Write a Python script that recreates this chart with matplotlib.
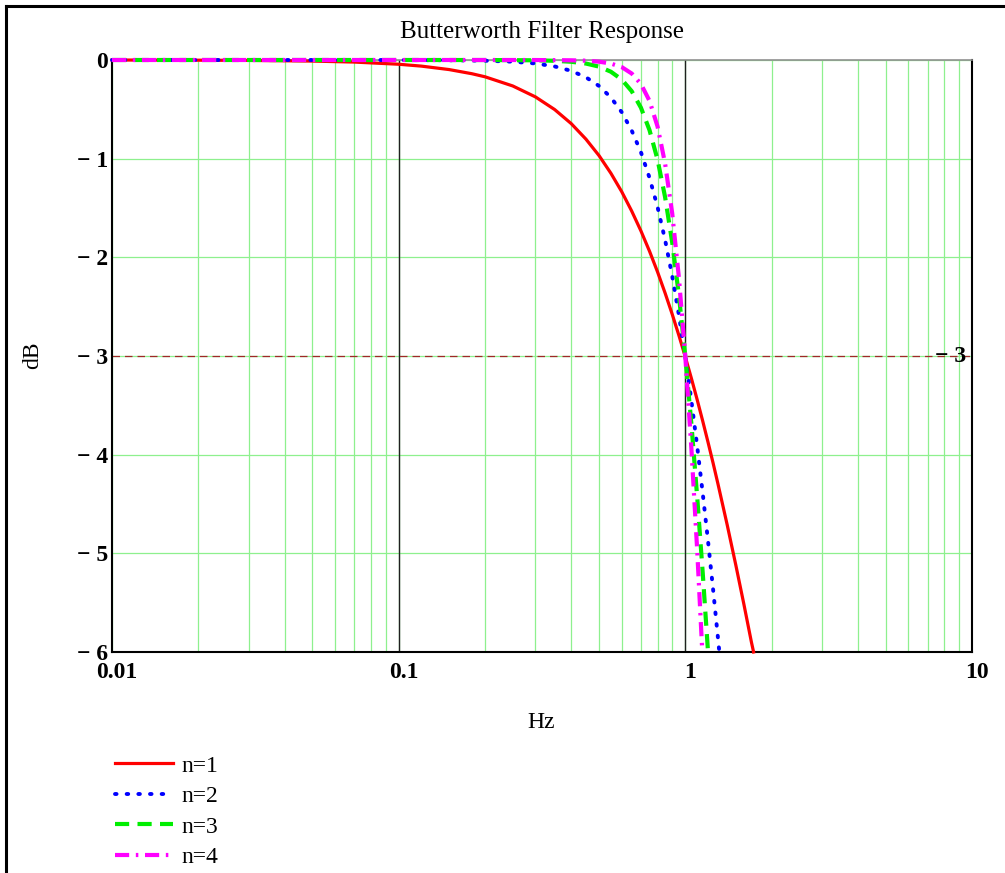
import matplotlib
matplotlib.use("Agg")
import matplotlib.pyplot as plt
import matplotlib.transforms as mtransforms
from matplotlib.lines import Line2D
from matplotlib.ticker import FixedLocator, FixedFormatter, NullFormatter

# Valeurs (Hz, dB)
freq_n1 = [0.01, 0.02, 0.03, 0.05, 0.07, 0.1, 0.12, 0.15, 0.18, 0.2, 0.25, 0.3, 0.35, 0.4,
           0.45, 0.5, 0.55, 0.6, 0.65, 0.7, 0.75, 0.8, 0.85, 0.9, 0.95, 1.0, 1.05, 1.1,
           1.15, 1.2, 1.25, 1.3, 1.4, 1.5, 1.6, 1.7, 1.73]
db_n1 = [0, -0.002, -0.004, -0.011, -0.021, -0.043, -0.062, -0.097, -0.139, -0.17, -0.263,
         -0.374, -0.502, -0.645, -0.802, -0.969, -1.148, -1.335, -1.531, -1.732, -1.938,
         -2.148, -2.362, -2.577, -2.793, -3.01, -3.227, -3.444, -3.66, -3.874, -4.086,
         -4.298, -4.713, -5.119, -5.514, -5.899, -6.0]

freq_n2 = [0.01, 0.05, 0.1, 0.15, 0.2, 0.25, 0.3, 0.35, 0.4, 0.45, 0.5, 0.55, 0.6, 0.65,
           0.7, 0.75, 0.8, 0.85, 0.9, 0.95, 1.0, 1.05, 1.1, 1.15, 1.2, 1.25, 1.3, 1.314]
db_n2 = [0, 0, -0.0004, -0.002, -0.007, -0.017, -0.035, -0.065, -0.11, -0.175, -0.263,
         -0.38, -0.529, -0.715, -0.934, -1.194, -1.49, -1.824, -2.19, -2.588, -3.01,
         -3.455, -3.916, -4.392, -4.876, -5.367, -5.862, -6.0]

freq_n3 = [0.01, 0.1, 0.2, 0.3, 0.35, 0.4, 0.45, 0.5, 0.55, 0.6, 0.65, 0.7, 0.75, 0.8,
           0.85, 0.9, 0.95, 1.0, 1.05, 1.1, 1.15, 1.2]
db_n3 = [0, 0, -0.0003, -0.003, -0.008, -0.018, -0.036, -0.067, -0.119, -0.198, -0.316,
         -0.483, -0.711, -1.01, -1.39, -1.85, -2.39, -3.01, -3.69, -4.43, -5.2, -6.0]

freq_n4 = [0.01, 0.1, 0.2, 0.3, 0.4, 0.45, 0.5, 0.55, 0.6, 0.65, 0.7, 0.75, 0.8, 0.85,
           0.9, 0.95, 1.0, 1.05, 1.1, 1.146]
db_n4 = [0, 0, 0, -0.0003, -0.003, -0.007, -0.017, -0.036, -0.072, -0.137, -0.243,
         -0.414, -0.674, -1.05, -1.555, -2.21, -3.01, -3.94, -4.97, -6.0]

labels = ["n=1", "n=2", "n=3", "n=4"]
y_ticks = [0, -1, -2, -3, -4, -5, -6]
y_labels = ["0", "\u2212 1", "\u2212 2", "\u2212 3", "\u2212 4", "\u2212 5", "\u2212 6"]
x_ticks = [0.01, 0.1, 1, 10]
x_labels = ["0.01", "0.1", "1", "10"]
niveau_3db = -3

plt.rcParams["font.family"] = ["Liberation Serif", "DejaVu Serif"]

W, H = 1005, 873
fig = plt.figure(figsize=(W / 100, H / 100), dpi=100)
ax = fig.add_axes([112 / W, 1 - 652 / H, 860 / W, 592 / H])

ax.set_xscale("log")
ax.set_xlim(0.01, 10)
ax.set_ylim(-6, 0)

# grille verte
ax.xaxis.set_major_locator(FixedLocator(x_ticks))
ax.xaxis.set_major_formatter(FixedFormatter(x_labels))
ax.xaxis.set_minor_formatter(NullFormatter())
ax.yaxis.set_major_locator(FixedLocator(y_ticks))
ax.yaxis.set_major_formatter(FixedFormatter(y_labels))
ax.grid(which="both", axis="x", color="#8ef08e", lw=0.9)
ax.grid(which="major", axis="y", color="#8ef08e", lw=0.9)
ax.tick_params(which="both", length=0, labelsize=17)
ax.tick_params(axis="x", pad=7)
ax.tick_params(axis="y", pad=3)
decal = mtransforms.ScaledTranslation(5 / 100, 0, fig.dpi_scale_trans)
for lab in ax.get_xticklabels():
    lab.set_fontweight("bold")
    lab.set_transform(lab.get_transform() + decal)
for lab in ax.get_yticklabels():
    lab.set_fontweight("bold")

# lignes noires des décades
for d in [0.1, 1]:
    ax.axvline(d, color="#202020", lw=1.0, zorder=2)

# ligne -3 dB
ax.axhline(niveau_3db, color="#a02828", lw=0.9, dashes=(6, 4), zorder=2.1)
ax.text(0.993, niveau_3db, "\u2212 3", transform=ax.get_yaxis_transform(),
        ha="right", va="center", fontsize=17, fontweight="bold")

ax.plot(freq_n1, db_n1, color="#ff0000", lw=2.3, label=labels[0], clip_on=False, zorder=3)
ax.plot(freq_n2, db_n2, color="#0000ff", lw=2.8, linestyle=(0, (0.4, 2.6)),
        dash_capstyle="round", label=labels[1], clip_on=False, zorder=3)
ax.plot(freq_n3, db_n3, color="#00ee00", lw=3.0, linestyle=(0, (3.4, 2.0)),
        label=labels[2], clip_on=False, zorder=3)
ax.plot(freq_n4, db_n4, color="#ff00ff", lw=3.0, linestyle=(0, (3.4, 1.6, 0.6, 1.6)),
        label=labels[3], clip_on=False, zorder=3)

for s in ["left", "bottom", "right"]:
    ax.spines[s].set_color("black")
    ax.spines[s].set_linewidth(1.5)
ax.spines["top"].set_color("#909090")
ax.spines["top"].set_linewidth(1.2)

fig.text(542 / W, 1 - 32 / H, "Butterworth Filter Response", ha="center", va="center", fontsize=18)
fig.text(33 / W, 1 - 355 / H, "dB", ha="center", va="center", rotation=90, fontsize=17)
fig.text(541 / W, 1 - 722 / H, "Hz", ha="center", va="center", fontsize=17)

fig.legend(loc="upper left", bbox_to_anchor=(115 / W, 1 - 755 / H), frameon=False,
           fontsize=17, handlelength=2.45, handletextpad=0.38, labelspacing=0.38,
           borderpad=0, borderaxespad=0)

# cadre
fig.add_artist(Line2D([6 / W, 6 / W], [0, 1 - 6 / H], transform=fig.transFigure, color="black", lw=2.2))
fig.add_artist(Line2D([6 / W, 1], [1 - 6 / H, 1 - 6 / H], transform=fig.transFigure, color="black", lw=2.2))

fig.savefig("out.png", dpi=100)
